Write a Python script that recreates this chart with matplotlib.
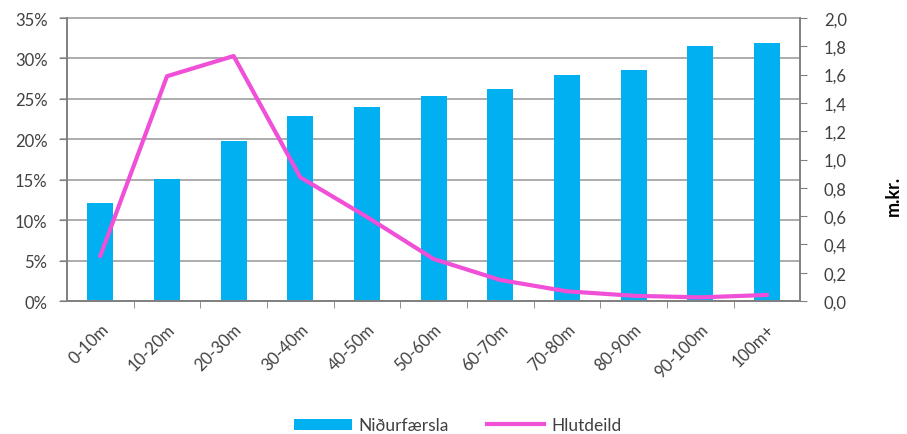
import matplotlib.pyplot as plt
from matplotlib.transforms import blended_transform_factory

# Niðurfærsla (m.kr.) og hlutdeild (%) eftir stærð
flokkar = ["0-10m", "10-20m", "20-30m", "30-40m", "40-50m", "50-60m",
           "60-70m", "70-80m", "80-90m", "90-100m", "100m+"]
nidurfaersla = [0.69, 0.86, 1.13, 1.31, 1.37, 1.45, 1.50, 1.60, 1.63, 1.80, 1.82]
hlutdeild = [5.6, 27.8, 30.3, 15.3, 10.4, 5.2, 2.6, 1.2, 0.65, 0.45, 0.75]

pct_ticks = [0, 5, 10, 15, 20, 25, 30, 35]
mkr_ticks = [0.0, 0.2, 0.4, 0.6, 0.8, 1.0, 1.2, 1.4, 1.6, 1.8, 2.0]

plt.rcParams['font.family'] = ['Lato', 'DejaVu Sans']
txt = '#404040'

fig = plt.figure(figsize=(9.07, 4.35), dpi=100)
ax2 = fig.add_axes([0.0739, 0.3057, 0.8083, 0.6506])   # bars, right scale
ax = ax2.twinx()                                        # line, left scale
ax.yaxis.tick_left()
ax.yaxis.set_label_position('left')
ax2.yaxis.tick_right()
ax.set_zorder(ax2.get_zorder() + 1)
ax.patch.set_visible(False)

x = list(range(len(flokkar)))

# gridlines follow the percent axis but sit behind the bars
tr = blended_transform_factory(ax2.transAxes, ax.transData)
ax2.hlines(pct_ticks, -0.01, 1, transform=tr, colors='#a6a6a6',
           linewidth=1.3, zorder=0, clip_on=False)

ax2.bar(x, nidurfaersla, width=0.39, color='#00b0f0', zorder=2, label='Niðurfærsla')
ax.plot(x, hlutdeild, color='#f04fd8', linewidth=3, label='Hlutdeild')

ax.set_xlim(-0.5, len(flokkar) - 0.5)
ax2.set_xlim(-0.5, len(flokkar) - 0.5)
ax.set_ylim(0, 35)
ax2.set_ylim(0, 2.0)

ax.set_yticks(pct_ticks)
ax.set_yticklabels([f"{t}%" for t in pct_ticks])
ax2.set_yticks(mkr_ticks)
ax2.set_yticklabels([f"{t:.1f}".replace('.', ',') for t in mkr_ticks])

ax2.set_xticks(x)
ax2.set_xticklabels(flokkar, rotation=45, ha='right', rotation_mode='anchor')
ax2.set_xticks([i + 0.5 for i in x[:-1]], minor=True)
ax2.tick_params(axis='x', which='major', length=0, pad=14, labelsize=12, labelcolor=txt)
ax2.tick_params(axis='x', which='minor', length=5, color='#808080', direction='out')
ax.tick_params(axis='x', bottom=False, labelbottom=False)

ax.tick_params(axis='y', length=6, color='#808080', labelsize=12, labelcolor=txt, pad=8)
ax2.tick_params(axis='y', length=5, color='#808080', labelsize=12, labelcolor=txt, pad=12)

for a in (ax, ax2):
    a.spines['top'].set_visible(False)
    for s in ('left', 'right', 'bottom'):
        a.spines[s].set_color('#808080')
        a.spines[s].set_linewidth(1.2)

fig.text(0.985, 0.55, 'm.kr.', rotation=90, fontsize=13, fontweight='bold',
         ha='center', va='center', color='#000000')

h1, l1 = ax2.get_legend_handles_labels()
h2, l2 = ax.get_legend_handles_labels()
fig.legend(h1 + h2, l1 + l2, loc='center', bbox_to_anchor=(0.505, 0.02), ncol=2,
           frameon=False, fontsize=12.5, labelcolor=txt, handlelength=3.3,
           handleheight=0.6, columnspacing=2.2, handletextpad=0.4)

fig.savefig('out.png', dpi=100)
